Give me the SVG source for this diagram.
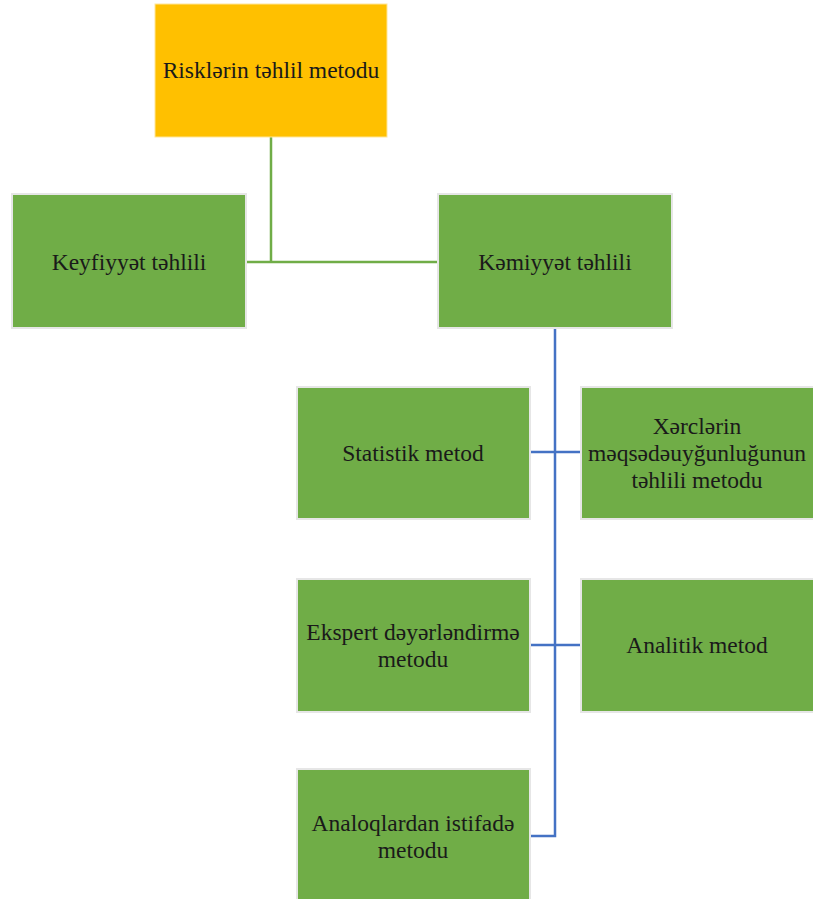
<svg xmlns="http://www.w3.org/2000/svg" width="813" height="899" viewBox="0 0 813 899">
<style>
.g{fill:#70AD47;stroke:#E6E6E6;stroke-width:2}
.o{fill:#FFC000;stroke:#FFE699;stroke-width:1}
text{font-family:'Liberation Serif','DejaVu Serif',serif;font-size:23.5px;fill:#1a1a1a;text-anchor:middle}
.gl{stroke:#70AD47;stroke-width:2.5;fill:none}
.bl{stroke:#4472C4;stroke-width:2.5;fill:none}
</style>
<rect width="813" height="899" fill="#fff"/>
<g id="connectors">
<path class="gl" d="M271 137V262M247 262H437"/>
<path class="bl" d="M555 328V836H530M530 452H581M530 645H581"/>
</g>
<g id="root"><rect class="o" x="155" y="4" width="232" height="133"/><text x="271" y="78">Risklərin təhlil metodu</text></g>
<g id="keyfiyyet"><rect class="g" x="12" y="194" width="234" height="134"/><text x="129" y="270">Keyfiyyət təhlili</text></g>
<g id="kemiyyet"><rect class="g" x="438" y="194" width="234" height="134"/><text x="555" y="270">Kəmiyyət təhlili</text></g>
<g id="statistik"><rect class="g" x="297" y="387" width="233" height="132"/><text x="413" y="461">Statistik metod</text></g>
<g id="xerclerin"><rect class="g" x="581" y="387" width="234" height="132"/><text x="697" y="434">Xərclərin</text><text x="697" y="461">məqsədəuyğunluğunun</text><text x="697" y="488">təhlili metodu</text></g>
<g id="ekspert"><rect class="g" x="297" y="579" width="233" height="133"/><text x="413" y="640">Ekspert dəyərləndirmə</text><text x="413" y="667">metodu</text></g>
<g id="analitik"><rect class="g" x="581" y="579" width="234" height="133"/><text x="697" y="653">Analitik metod</text></g>
<g id="analoq"><rect class="g" x="297" y="769" width="233" height="140"/><text x="413" y="831">Analoqlardan istifadə</text><text x="413" y="858">metodu</text></g>
</svg>
